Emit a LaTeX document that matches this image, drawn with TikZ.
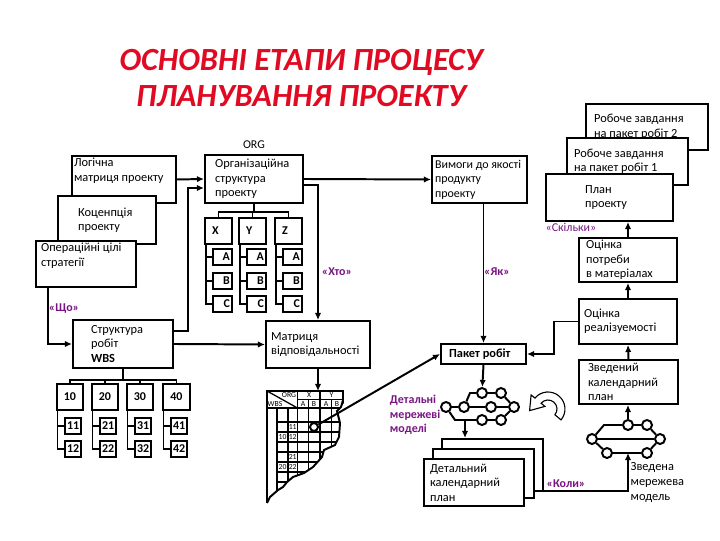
\documentclass[tikz,border=0pt]{standalone}
\usepackage{fontspec}
\setmainfont{Carlito}
\usetikzlibrary{positioning,calc,arrows.meta}
\newlength{\px}
\setlength{\px}{0.025cm}
\newcommand{\inbox}[4][c]{\parbox[c][\dimexpr#3\px-3pt\relax][#1]{\dimexpr#2\px-3pt\relax}{\raggedright #4}}
\definecolor{ttlred}{RGB}{225,10,35}
\definecolor{tagpur}{RGB}{120,20,130}

\begin{document}
\begin{tikzpicture}[x=0.025cm, y=-0.025cm,
% node style
blk/.style={draw, fill=white, line width=1.4pt, anchor=north west, inner sep=1.5pt, font=\fontsize{8.8}{10.3}\selectfont},
cell/.style={blk, font=\bfseries\fontsize{8.5}{9}\selectfont},
netc/.style={circle, draw, fill=white, line width=1.4pt, minimum size=10\px, inner sep=0pt},
ln/.style={line width=1.4pt},
arr/.style={ln, -{Latex[length=5pt,width=4.5pt]}},
grd/.style={line width=0.9pt},
tag/.style={text=tagpur, font=\bfseries\fontsize{8.5}{10.5}\selectfont, align=left},
tiny/.style={font=\fontsize{5.5}{6}\selectfont, inner sep=0pt}
]
\useasboundingbox (0,0) rectangle (720,540);

% title
\node[text=ttlred, font=\bfseries\itshape\fontsize{23}{25}\selectfont, align=center] (title) at (301,78) {ОСНОВНІ ЕТАПИ ПРОЦЕСУ\\ПЛАНУВАННЯ ПРОЕКТУ};

% nodes, left stack
\node[blk] (logic) at (71,155) {\inbox[t]{104}{47}{Логічна\\матриця проекту}};
\node[blk] (concept) at (57,195) {\inbox{98}{48}{\leftskip=18\px\relax Коценпція\\проекту}};
\node[blk] (ops) at (35,240) {\inbox[t]{100}{46}{\leftskip=3\px\relax Операційні цілі\\стратегії}};

% organisation structure
\node[blk] (org) at (204,154) {\inbox{98}{48}{\leftskip=8\px\relax Організаційна\\структура\\проекту}};
\node (orglbl) [above=0pt of org, font=\fontsize{8.5}{10}\selectfont] {ORG};
\foreach \c/\xx/\lab in {x/204/X, y/238/Y, z/274/Z} {
  \node[cell] (o\c) at (\xx,217) {\inbox{27}{26}{\leftskip=5\px\relax \lab}};
  \foreach \s/\yy/\sl in {a/248/A, b/272/B, c/295/C}
    \node[cell] (o\c-\s) at (\xx+8,\yy) {\inbox{19}{16}{\raggedleft \sl}};
  \draw[ln] ($(o\c.south west)+(2,0)$) |- (o\c-c.west);
  \draw[ln] (o\c-a.west) -- ++(-6,0);
  \draw[ln] (o\c-b.west) -- ++(-6,0);
}
\coordinate (orgbar) at ($(org.south)+(0,8)$);
\draw[ln] (org.south) -- (orgbar);
\draw[ln] (ox.north) |- (orgbar) -| (oz.north);
\draw[ln] (oy.north) -- (oy.north |- orgbar);

% work breakdown structure
\node[blk] (wbs) at (72,319) {\inbox{100}{48}{\leftskip=16\px\relax Структура\\робіт\\\textbf{WBS}}};
\foreach \c/\xx/\w in {1/56/26, 2/91/26, 3/126/26, 4/162/27} {
  \node[cell] (w\c) at (\xx,383) {\inbox{\w}{26}{\centering \c0}};
  \node[cell] (w\c-1) at (\xx+8,417) {\inbox{16}{16}{\centering \c1}};
  \node[cell] (w\c-2) at (\xx+8,440) {\inbox{16}{16}{\centering \c2}};
  \draw[ln] ($(w\c.south west)+(1.5,0)$) |- (w\c-2.west);
  \draw[ln] (w\c-1.west) -- ++(-6.5,0);
}
\coordinate (wbsbar) at ($(wbs.south)+(0,11)$);
\draw[ln] (wbs.south) -- (wbsbar);
\draw[ln] (w1.north) |- (wbsbar) -| (w4.north);
\draw[ln] (w2.north) -- (w2.north |- wbsbar);
\draw[ln] (w3.north) -- (w3.north |- wbsbar);

% responsibility matrix
\node[blk] (matrix) at (265,320) {\inbox{104}{47}{\leftskip=3\px\relax Матриця\\відповідальності}};
\begin{scope}
\clip (262,386) -- (346,386) -- (346,400) -- (341,407) -- (337,411) -- (340,423) -- (339,437) -- (335,445) -- (324,450) -- (322,457) -- (313,467) -- (304,473) -- (293,477) -- (287,482) -- (283,487) -- (278,490) -- (270,497) -- (266,505) -- (262,505) -- cycle;
\foreach \gx in {277,288,297.5,308.5,320,331.5,343}
  \draw[grd] (\gx,408) -- (\gx,505);
\foreach \gy in {408,422,432,...,502}
  \draw[grd] (277,\gy) -- (343,\gy);
\draw[grd] (267,391) rectangle (343,408);
\draw[grd] (297.5,391) -- (297.5,408);
\draw[grd] (320,391) -- (320,408);
\draw[grd] (297.5,399.5) -- (343,399.5);
\draw[grd] (308.5,399.5) -- (308.5,408);
\draw[grd] (331.5,399.5) -- (331.5,408);
\draw[grd] (267,391) -- (297.5,408);
\end{scope}
\draw[ln] (343,391) -- (343,400) -- (341,407) -- (337,411) -- (340,423) -- (339,437) -- (335,445) -- (324,450) -- (322,457) -- (313,467) -- (304,473) -- (293,477) -- (287,482) -- (283,487) -- (278,490) -- (270,497) -- (267,503);
\draw[ln] (267,391) -- (267,503);
\coordinate (mtop) at (317,391);
\node[tiny] (hOrg) at (289,395) {ORG};
\node[tiny] (hWbs) at (275,404) {WBS};
\node[tiny] (hX) at (309,395.5) {X};
\node[tiny] (hY) at (331.5,395.5) {Y};
\foreach \hx/\hl [count=\i] in {303/A, 314/B, 326/A, 337/B}
  \node[tiny] (hab\i) at (\hx,404) {\hl};
\foreach \r/\ry in {11/427, 12/437, 21/457, 22/467}
  \node[tiny] (row\r) at (292.7,\ry) {\r};
\node[tiny] (row10) at (282.5,437) {10};
\node[tiny] (row20) at (282.5,467) {20};
\node[netc, minimum size=8\px] (mc) at (314,427) {};

% quality requirements and work package
\node[blk, font=\fontsize{8.5}{10.3}\selectfont] (vymogy) at (431,155) {\inbox{95}{47}{\leftskip=1\px\relax \mbox{Вимоги до якості}\\продукту\\проекту}};
\node[blk] (pkg) at (440,343) {\inbox{85}{20}{\leftskip=6\px\relax \textbf{Пакет робіт}}};

% right stack
\node[blk] (task2) at (585,103) {\inbox{122}{46}{\leftskip=6\px\relax Робоче завдання\\на пакет робіт 2}};
\node[blk] (task1) at (566,137) {\inbox{121}{47}{\leftskip=5\px\relax Робоче завдання\\на пакет робіт 1}};
\node[blk] (plan) at (545,173) {\inbox{127}{47}{\leftskip=37\px\relax План\\проекту}};
\node[blk] (nmat) at (578,237) {\inbox{98}{44}{\leftskip=5\px\relax Оцінка\\потреби\\в матеріалах}};
\node[blk] (feas) at (578,298) {\inbox{98}{45}{\leftskip=3\px\relax Оцінка\\реалізуемості}};
\node[blk] (cal) at (578,359) {\inbox{99}{44}{\leftskip=7\px\relax Зведений\\календарний\\план}};

% detailed schedule stack
\node[blk, minimum width=101\px, minimum height=52\px] (detb) at (441,438) {};
\node[blk, minimum width=101\px, minimum height=49\px] (detm) at (432,448) {};
\node[blk] (detf) at (423,458) {\inbox{100}{47}{\leftskip=4\px\relax Детальний\\календарний\\план}};

% detailed network
\node[netc] (l1) at (446,407) {};
\node[netc] (l2) at (464,407) {};
\node[netc] (l3) at (482,393) {};
\node[netc] (l4) at (501,393) {};
\node[netc] (l5) at (491,407) {};
\node[netc] (l6) at (514,407) {};
\node[netc] (l7) at (482,420) {};
\node[netc] (l8) at (501,420) {};
\coordinate (lbot) at (465,420);
\draw[ln] (l1) -- (l2) -- (l5) -- (l6);
\draw[ln] (l2) -- (470,393) -- (l3) -- (l4) -- (l6);
\draw[ln] (l1) -- (455,420) -- (l7) -- (l8) -- (l6);

% summary network
\node[netc] (r1) at (592,439) {};
\node[netc] (r2) at (628,425) {};
\node[netc] (r3) at (647,425) {};
\node[netc] (r4) at (660,439) {};
\node[netc] (r5) at (607,453) {};
\node[netc] (r6) at (647,453) {};
\coordinate (rbot) at (628,453);
\draw[ln] (r1) -- (604,425) -- (r2) -- (r3) -- (r4);
\draw[ln] (r1) -- (r4);
\draw[ln] (r1) -- (r5) -- (r6) -- (r4);

% iteration arrow
\draw[line width=0.8pt, fill=white] (561.0,419.9) arc[start angle=40, end angle=-140, radius=17] -- (531.1,394.9) -- (529.6,410.6) -- (544.9,406.4) -- (541.1,403.2) arc[start angle=-140, end angle=40, radius=9] -- cycle;

% labels
\node[tag] (who) at (337,272) {«Хто»};
\node[tag] (how) at (497,272) {«Як»};
\node[tag, font=\fontsize{8.5}{10}\selectfont] (howmany) at (571,227) {«Скільки»};
\node[tag] (what) at (64,309) {«Що»};
\node[tag] (when) at (566,484) {«Коли»};
\node[tag, anchor=north west] (detnet) at (385,390) {Детальні\\мережеві\\моделі};
\node[anchor=north west, align=left, inner sep=1pt, font=\fontsize{8.8}{10.5}\selectfont] (sumnet) at (629,461) {Зведена\\мережева\\модель};

% draw lines between nodes
\draw[arr] (logic.east) -- (org.west);
\draw[arr] ($(wbs.north east)+(0,12)$) -| ($(org.west)+(-16,9)$) -- ($(org.west)+(0,9)$);
\draw[arr] (org.east) -- (vymogy.west);
\draw[arr] ($(org.east)+(0,6)$) -| (matrix.north);
\draw[arr] ($(ops.south west)+(13,0)$) |- (wbs.west);
\draw[arr] (wbs.east) -- (matrix.west);
\draw[arr] (matrix.south) -- (matrix.south |- mtop);
\draw[arr] (mc) -- (pkg.west);
\draw[arr] (vymogy.south -| pkg.north) -- (pkg.north);
\draw[arr] (feas.west) -| ($(pkg.east)+(27,0)$) -- (pkg.east);
\draw[arr] (nmat.north) -- (nmat.north |- plan.south);
\draw[arr] (feas.north) -- (nmat.south);
\draw[arr] (cal.north) -- (feas.south);
\draw[arr] (r2) -- (r2 |- cal.south);
\draw[arr] ($(detm.south east)+(0,-8)$) -| (rbot);
\draw[arr] (pkg.south) -- (l3);
\draw[arr] (lbot) -- (lbot |- detb.north);

\end{tikzpicture}
\end{document}
